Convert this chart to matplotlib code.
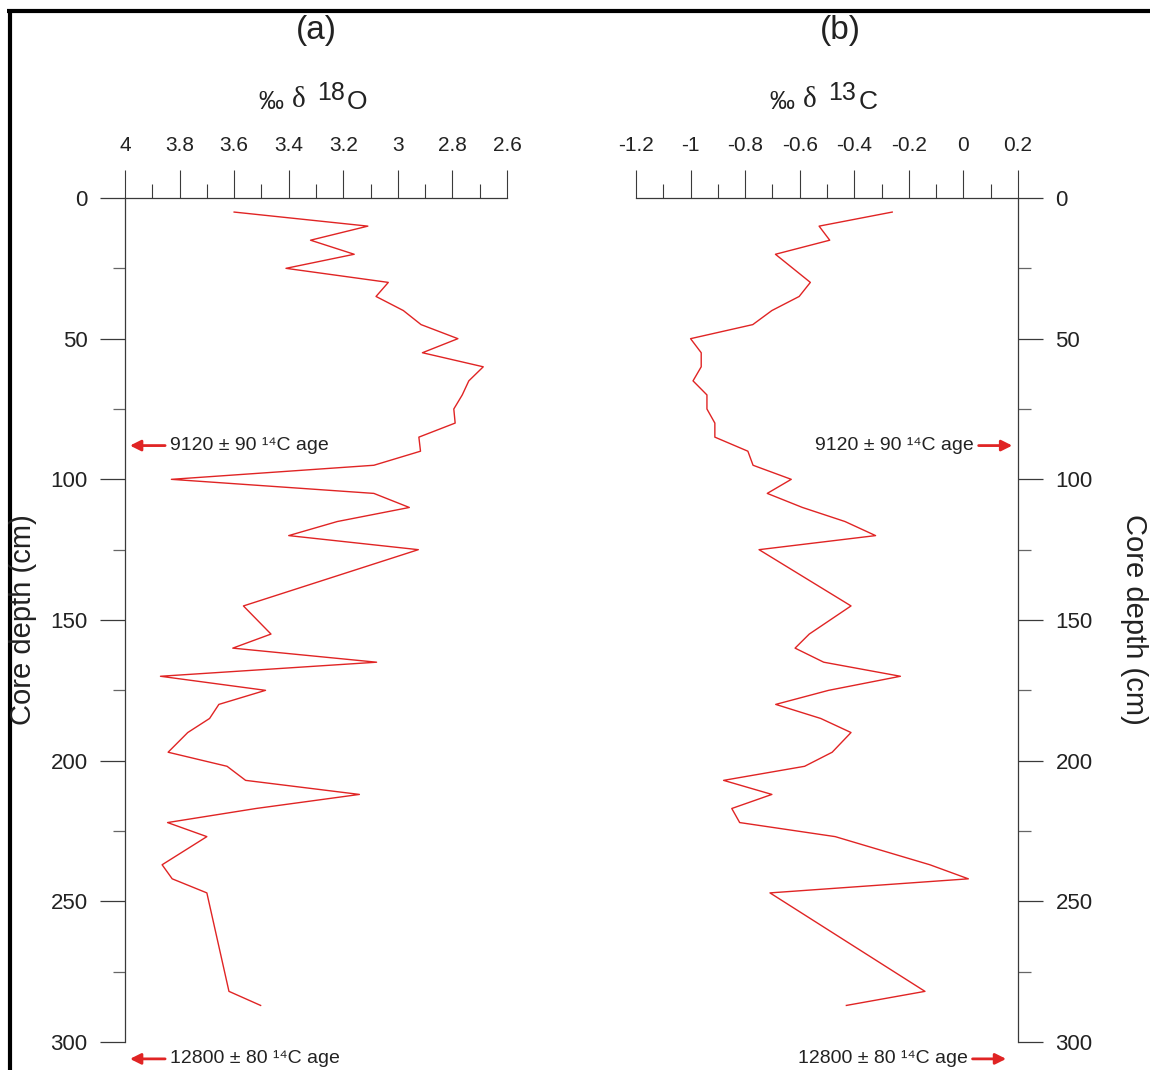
import matplotlib
matplotlib.use('Agg')
import matplotlib.pyplot as plt
from matplotlib.lines import Line2D
from matplotlib.ticker import MultipleLocator

plt.rcParams['font.family'] = ['Liberation Sans', 'DejaVu Sans']

# core depth of each sample (cm)
depth = [5, 10, 15, 20, 25, 30, 35, 40, 45, 50, 55, 60, 65, 70, 75, 80, 85, 90, 95, 100,
         105, 110, 115, 120, 125, 145, 155, 160, 165, 170, 175, 180, 185, 190, 197,
         202, 207, 212, 217, 222, 227, 237, 242, 247, 282, 287]
# per mil delta 18O
d18o = [3.60, 3.11, 3.32, 3.16, 3.41, 3.035, 3.08, 2.98, 2.915, 2.78, 2.91, 2.687, 2.74,
        2.764, 2.795, 2.79, 2.923, 2.917, 3.088, 3.83, 3.088, 2.958, 3.222, 3.40, 2.925,
        3.566, 3.465, 3.605, 3.078, 3.87, 3.485, 3.656, 3.69, 3.77, 3.842, 3.626, 3.558,
        3.141, 3.52, 3.844, 3.70, 3.864, 3.827, 3.70, 3.619, 3.503]
# per mil delta 13C
d13c = [-0.261, -0.529, -0.49, -0.689, -0.625, -0.561, -0.602, -0.702, -0.772, -1.0, -0.961,
        -0.961, -0.991, -0.94, -0.94, -0.911, -0.911, -0.79, -0.771, -0.631, -0.719, -0.59,
        -0.434, -0.322, -0.749, -0.412, -0.565, -0.617, -0.512, -0.231, -0.494, -0.688,
        -0.523, -0.412, -0.481, -0.582, -0.879, -0.702, -0.849, -0.82, -0.47, -0.123, 0.018,
        -0.709, -0.141, -0.429]

o_ticks = [4, 3.8, 3.6, 3.4, 3.2, 3, 2.8, 2.6]
o_labels = ['4', '3.8', '3.6', '3.4', '3.2', '3', '2.8', '2.6']
c_ticks = [-1.2, -1, -0.8, -0.6, -0.4, -0.2, 0, 0.2]
c_labels = ['-1.2', '-1', '-0.8', '-0.6', '-0.4', '-0.2', '0', '0.2']

date_depth = 88      # 9120 +/- 90 14C age
bottom_depth = 306   # 12800 +/- 80 14C age (below the plotted core)
date1 = '9120 ± 90 ¹⁴C age'
date2 = '12800 ± 80 ¹⁴C age'

red = '#e02424'
dark = '#3a3a3a'
W, H = 1150, 1070

fig = plt.figure(figsize=(W / 100, H / 100), dpi=100)


def box(x0, y0, x1, y1):
    return [x0 / W, 1 - y1 / H, (x1 - x0) / W, (y1 - y0) / H]


ax1 = fig.add_axes(box(125, 198, 507, 1042))
ax2 = fig.add_axes(box(636, 198, 1018, 1042))

for ax in (ax1, ax2):
    ax.set_ylim(300, 0)
    ax.xaxis.set_ticks_position('top')
    ax.xaxis.set_label_position('top')
    ax.xaxis.set_minor_locator(MultipleLocator(0.1))
    ax.yaxis.set_major_locator(MultipleLocator(50))
    ax.yaxis.set_minor_locator(MultipleLocator(25))
    ax.tick_params(axis='x', which='major', length=20, width=0.8, pad=11,
                   labelsize=15, color=dark, labelcolor='#222222')
    ax.tick_params(axis='x', which='minor', length=10, width=0.8, color=dark)
    ax.tick_params(axis='y', which='major', length=18, width=0.9, pad=9,
                   labelsize=16, color=dark, labelcolor='#222222')
    ax.tick_params(axis='y', which='minor', length=9, width=0.9, color='#666666')
    ax.spines['bottom'].set_visible(False)
    for s in ax.spines.values():
        s.set_color(dark)
        s.set_linewidth(0.9)

ax1.spines['right'].set_visible(False)
ax2.spines['left'].set_visible(False)
ax2.yaxis.set_ticks_position('right')

ax1.set_xlim(4, 2.6)
ax1.set_xticks(o_ticks, o_labels)
ax2.set_xlim(-1.2, 0.2)
ax2.set_xticks(c_ticks, c_labels)

ax1.plot(d18o, depth, color=red, lw=1.0)
ax2.plot(d13c, depth, color=red, lw=1.0)

arrow = dict(arrowstyle='-|>', color=red, lw=2, mutation_scale=16, shrinkA=0, shrinkB=0)

# dates, left panel (arrows point to the depth axis on the left)
t1 = ax1.get_yaxis_transform()
for d, txt in [(date_depth, date1), (bottom_depth, date2)]:
    ax1.annotate('', xy=(0.013, d), xytext=(0.105, d), xycoords=t1, textcoords=t1,
                 arrowprops=arrow, annotation_clip=False)
    ax1.text(0.118, d, txt, transform=t1, fontsize=14, ha='left', va='center',
             color='#222222', clip_on=False)

# dates, right panel
t2 = ax2.get_yaxis_transform()
for d, txt, x_end in [(date_depth, date1, 0.885), (bottom_depth, date2, 0.869)]:
    ax2.annotate('', xy=(x_end + 0.1, d), xytext=(x_end + 0.012, d), xycoords=t2,
                 textcoords=t2, arrowprops=arrow, annotation_clip=False)
    ax2.text(x_end, d, txt, transform=t2, fontsize=14, ha='right', va='center',
             color='#222222', clip_on=False)


def iso_label(cx, sup, letter):
    y = 1 - 102 / H
    fig.text((cx - 45) / W, y, '‰', fontsize=18, ha='center', va='center', color='#222222')
    fig.text((cx - 17) / W, y + 2 / H, 'δ', fontsize=21, ha='center', va='center',
             family=['Liberation Serif', 'DejaVu Serif'], color='#222222')
    fig.text((cx + 15) / W, 1 - 93 / H, sup, fontsize=18, ha='center', va='center',
             color='#222222')
    fig.text((cx + 41) / W, y, letter, fontsize=19, ha='center', va='center', color='#222222')


iso_label(316, '18', 'O')
iso_label(827, '13', 'C')

fig.text(316 / W, 1 - 31 / H, '(a)', fontsize=24, ha='center', va='center', color='#222222')
fig.text(840 / W, 1 - 31 / H, '(b)', fontsize=24, ha='center', va='center', color='#222222')

fig.text(23 / W, 1 - 620 / H, 'Core depth (cm)', rotation=90, fontsize=21,
         ha='center', va='center', color='#222222')
fig.text(1134 / W, 1 - 619 / H, 'Core depth (cm)', rotation=270, fontsize=21,
         ha='center', va='center', color='#222222')

# heavy frame on top and left edge
fig.add_artist(Line2D([7 / W, 1], [1 - 11.3 / H] * 2, color='black', lw=3, solid_capstyle='butt'))
fig.add_artist(Line2D([9.7 / W] * 2, [0, 1 - 9.5 / H], color='black', lw=3, solid_capstyle='butt'))

fig.savefig('out.png', dpi=100)
